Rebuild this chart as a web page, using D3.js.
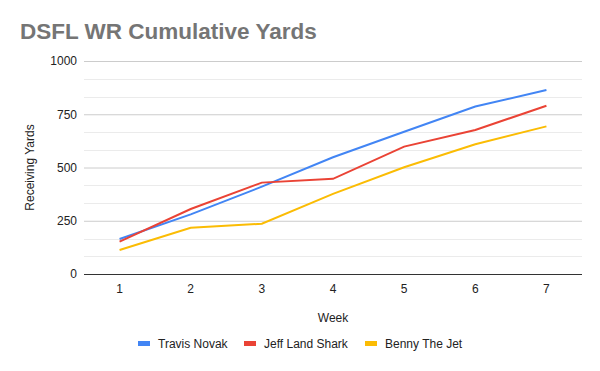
<!DOCTYPE html>
<html lang="en">
<head>
    <meta charset="UTF-8">
    <title>DSFL WR Cumulative Yards</title>
    <script src="https://d3js.org/d3.v7.min.js"></script>
    <style>
        body { margin: 0; background: #fff; }
        text { font-family: "Liberation Sans", Arial, sans-serif; }
    </style>
</head>
<body>
    <svg width="600" height="371"></svg>

    <script>
        // chart data
        var weeks = [1, 2, 3, 4, 5, 6, 7];
        var travisNovak = [164, 280, 410, 548, 668, 786, 864];
        var jeffLandShark = [152, 305, 429, 447, 598, 676, 790];
        var bennyTheJet = [113, 217, 236, 376, 501, 609, 693];
        var seriesNames = ["Travis Novak", "Jeff Land Shark", "Benny The Jet"];
        var seriesColors = ["#4285f4", "#ea4335", "#fbbc04"];
        var yTicks = [0, 250, 500, 750, 1000];

        var series = [travisNovak, jeffLandShark, bennyTheJet];

        var svg = d3.select("svg");
        var plotLeft = 84, plotRight = 582, plotTop = 61, plotBottom = 274;

        var x = d3.scaleBand().domain(weeks).range([plotLeft, plotRight]);
        var y = d3.scaleLinear().domain([0, 1000]).range([plotBottom, plotTop]);

        // title
        svg.append("text")
           .attr("x", 20).attr("y", 39)
           .style("font-size", "22.5px").style("font-weight", "bold")
           .style("fill", "#757575")
           .text("DSFL WR Cumulative Yards");

        // minor gridlines
        var minor = d3.range(0, 1001, 250 / 3).filter(function(d, i) { return i % 3 != 0; });
        svg.append("g").selectAll("line").data(minor).enter().append("line")
           .attr("x1", plotLeft).attr("x2", plotRight)
           .attr("y1", function(d) { return Math.round(y(d)) + 0.5; })
           .attr("y2", function(d) { return Math.round(y(d)) + 0.5; })
           .style("stroke", "#ebebeb");

        // y axis with major gridlines
        var yAxis = svg.append("g")
           .attr("transform", "translate(" + plotLeft + ",0)")
           .call(d3.axisLeft(y).tickValues(yTicks).tickFormat(d3.format("d"))
                 .tickSize(-(plotRight - plotLeft)).tickPadding(7));
        yAxis.select(".domain").remove();
        yAxis.selectAll(".tick line").style("stroke", function(d) { return d == 0 ? "#333" : "#ccc"; });
        yAxis.selectAll(".tick text").style("font-size", "12px").style("fill", "#222")
             .style("font-family", "Liberation Sans, Arial, sans-serif");

        // x axis
        var xAxis = svg.append("g")
           .attr("transform", "translate(0," + plotBottom + ")")
           .call(d3.axisBottom(x).tickSize(0).tickPadding(10));
        xAxis.select(".domain").remove();
        xAxis.selectAll(".tick text").style("font-size", "12px").style("fill", "#222")
             .style("font-family", "Liberation Sans, Arial, sans-serif");

        // lines
        var line = d3.line()
            .x(function(d, i) { return x(weeks[i]) + x.bandwidth() / 2; })
            .y(function(d) { return y(d); });

        svg.append("g").selectAll("path").data(series).enter().append("path")
           .attr("d", line)
           .style("fill", "none")
           .style("stroke", function(d, i) { return seriesColors[i]; })
           .style("stroke-width", 2);

        // axis titles
        svg.append("text")
           .attr("transform", "translate(34," + ((plotTop + plotBottom) / 2) + ") rotate(-90)")
           .attr("text-anchor", "middle")
           .style("font-size", "12px").style("fill", "#222")
           .text("Receiving Yards");

        svg.append("text")
           .attr("x", (plotLeft + plotRight) / 2).attr("y", 322)
           .attr("text-anchor", "middle")
           .style("font-size", "12px").style("fill", "#222")
           .text("Week");

        // legend
        var legendX = [138, 244, 365];
        var legend = svg.append("g").selectAll("g").data(seriesNames).enter().append("g")
           .attr("transform", function(d, i) { return "translate(" + legendX[i] + ",344)"; });
        legend.append("rect")
           .attr("x", 0).attr("y", -3).attr("width", 12).attr("height", 5)
           .style("fill", function(d, i) { return seriesColors[i]; });
        legend.append("text")
           .attr("x", 20).attr("y", 4)
           .style("font-size", "12px").style("fill", "#222")
           .text(function(d) { return d; });
    </script>
</body>
</html>
